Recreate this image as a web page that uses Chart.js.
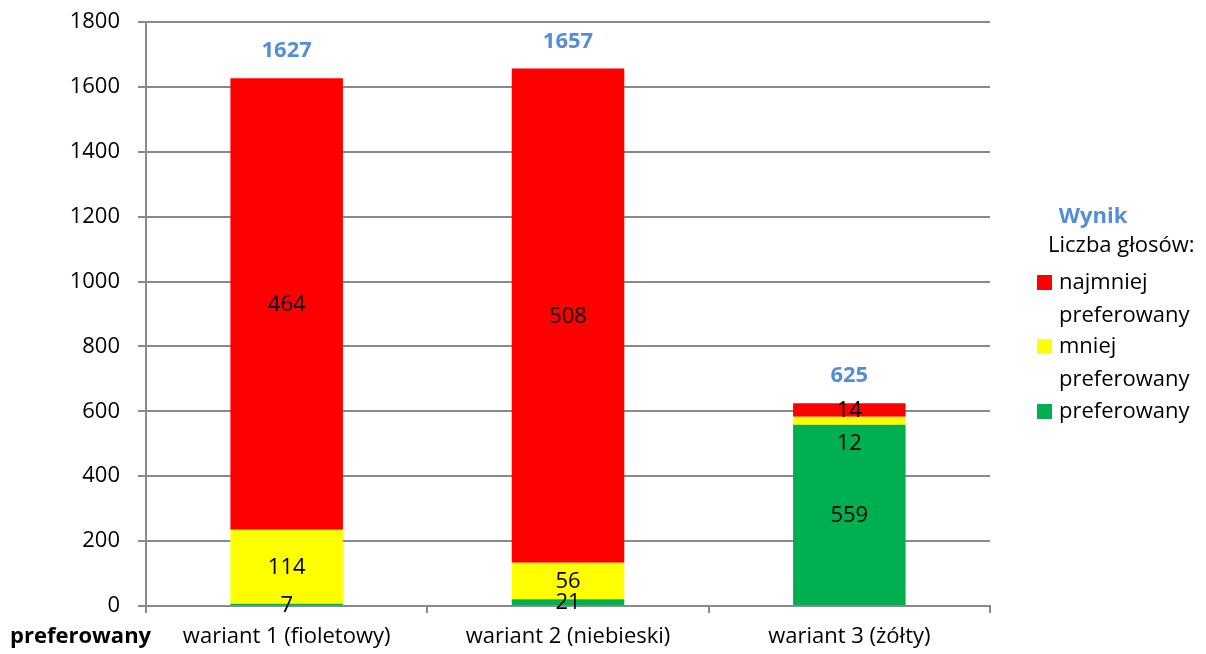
<!DOCTYPE html>
<html>
<head>
<meta charset="utf-8">
<script src="https://cdn.jsdelivr.net/npm/chart.js@4.4.1/dist/chart.umd.min.js"></script>
<style>
    html, body { margin: 0; padding: 0; background: #fff; }
    #wrap { width: 1206px; height: 654px; position: relative; }
</style>
</head>
<body>
<div id="wrap"><canvas id="votesChart"></canvas></div>
<script>
// kategorie
const categories = ['wariant 1 (fioletowy)', 'wariant 2 (niebieski)', 'wariant 3 (żółty)'];

const preferowanyPts = [7, 21, 559];
const mniejPts = [228, 112, 24];
const najmniejPts = [1392, 1524, 42];

// liczba glosow wypisana w segmentach
const preferowanyVotes = [7, 21, 559];
const mniejVotes = [114, 56, 12];
const najmniejVotes = [464, 508, 14];

// sumy nad slupkami
const totals = [1627, 1657, 625];

const yMax = 1800;
const yStep = 200;

const FONT = '"Open Sans", sans-serif';
const BLUE = '#558ED5';
const GRID = '#898989';

// etykiety wewnatrz segmentow + sumy
const labelsPlugin = {
    id: 'segmentLabels',
    afterDatasetsDraw(chart) {
        const ctx = chart.ctx;
        ctx.save();
        ctx.textAlign = 'center';
        ctx.textBaseline = 'middle';
        ctx.font = '22px ' + FONT;
        ctx.fillStyle = '#000';
        for (let i = 0; i < categories.length; i++) {
            let prevY = null;
            // od gory do dolu: najmniej, mniej, preferowany
            for (let d = chart.data.datasets.length - 1; d >= 0; d--) {
                const bar = chart.getDatasetMeta(d).data[i];
                let y = (bar.y + bar.base) / 2;
                if (prevY !== null && y - prevY < 20) {
                    y = prevY + 33;
                }
                ctx.fillText(chart.data.datasets[d].votes[i], bar.x, y + 1);
                prevY = y;
            }
        }
        ctx.font = 'bold 22px ' + FONT;
        ctx.fillStyle = BLUE;
        const last = chart.getDatasetMeta(chart.data.datasets.length - 1);
        for (let i = 0; i < totals.length; i++) {
            const bar = last.data[i];
            ctx.fillText(totals[i], bar.x, bar.y - 27);
        }
        ctx.restore();
    }
};

// legenda po prawej i podpis w lewym dolnym rogu
const legendPlugin = {
    id: 'sideLegend',
    afterDraw(chart) {
        const ctx = chart.ctx;
        ctx.save();
        ctx.textBaseline = 'middle';
        ctx.textAlign = 'center';
        ctx.font = 'bold 22px ' + FONT;
        ctx.fillStyle = BLUE;
        ctx.fillText('Wynik', 1093, 217);
        ctx.textAlign = 'left';
        ctx.font = '22px ' + FONT;
        ctx.fillStyle = '#000';
        ctx.fillText('Liczba głosów:', 1048, 246);

        const items = [
            { ds: 2, lines: ['najmniej', 'preferowany'], y: 283 },
            { ds: 1, lines: ['mniej', 'preferowany'], y: 347 },
            { ds: 0, lines: ['preferowany'], y: 412 }
        ];
        items.forEach(function (it) {
            ctx.fillStyle = chart.data.datasets[it.ds].backgroundColor;
            ctx.fillRect(1037, it.y - 8, 15, 15);
            ctx.fillStyle = '#000';
            it.lines.forEach(function (t, k) {
                ctx.fillText(t, 1059, it.y + k * 33);
            });
        });

        ctx.font = 'bold 22px ' + FONT;
        ctx.fillText('preferowany', 10, 637);
        ctx.restore();
    }
};

const ctx = document.getElementById('votesChart').getContext('2d');
const votesChart = new Chart(ctx, {
    type: 'bar',
    data: {
        labels: categories,
        datasets: [
            { label: 'preferowany', data: preferowanyPts, votes: preferowanyVotes, backgroundColor: '#00B050' },
            { label: 'mniej preferowany', data: mniejPts, votes: mniejVotes, backgroundColor: '#FFFF00' },
            { label: 'najmniej preferowany', data: najmniejPts, votes: najmniejVotes, backgroundColor: '#FF0000' }
        ]
    },
    options: {
        responsive: true,
        maintainAspectRatio: false,
        animation: false,
        layout: { padding: { top: 22, right: 216, left: 0, bottom: 0 } },
        datasets: {
            bar: { barPercentage: 0.4, categoryPercentage: 1.0, borderWidth: 0 }
        },
        plugins: {
            legend: { display: false },
            tooltip: { enabled: false }
        },
        scales: {
            x: {
                stacked: true,
                afterFit: function (scale) {
                    scale.height = 48;
                    scale.paddingLeft = 0;
                    scale.paddingRight = 0;
                },
                grid: {
                    offset: true,
                    drawOnChartArea: false,
                    color: GRID,
                    lineWidth: 2,
                    tickLength: 7
                },
                border: { color: GRID, width: 2 },
                ticks: {
                    color: '#000',
                    padding: 11,
                    font: { family: FONT, size: 22 }
                }
            },
            y: {
                stacked: true,
                min: 0,
                max: yMax,
                afterFit: function (scale) {
                    scale.width = 146;
                    scale.paddingTop = 0;
                    scale.paddingBottom = 0;
                },
                grid: {
                    color: GRID,
                    lineWidth: 2,
                    tickLength: 8
                },
                border: { color: GRID, width: 2 },
                ticks: {
                    stepSize: yStep,
                    color: '#000',
                    padding: 18,
                    font: { family: FONT, size: 22 },
                    callback: function (v) { return v; }
                }
            }
        }
    },
    plugins: [labelsPlugin, legendPlugin]
});
</script>
</body>
</html>
